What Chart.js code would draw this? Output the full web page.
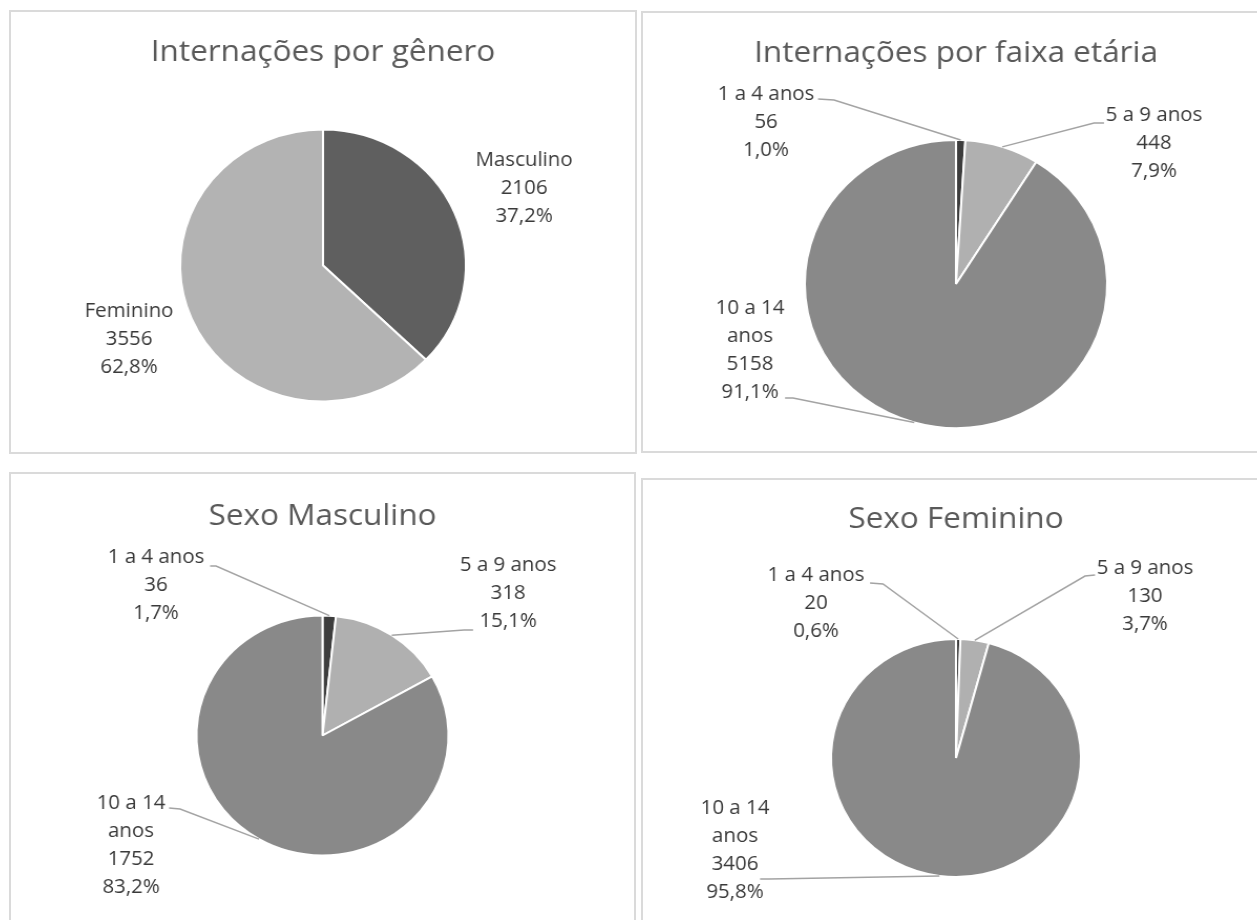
<!DOCTYPE html>
<html lang="pt-BR">
<head>
<meta charset="utf-8">
<title>Internações</title>
<script src="https://cdn.jsdelivr.net/npm/chart.js@4.4.1/dist/chart.umd.min.js"></script>
<style>
  html, body { margin: 0; padding: 0; background: #fff; overflow: hidden; }
  body { width: 1257px; height: 920px; position: relative; }
  .painel { position: absolute; box-shadow: inset 0 0 0 2px #dadada; }
  .painel canvas { position: absolute; left: 0; top: 0; }
</style>
</head>
<body>
<div class="painel" id="painelGenero"><canvas id="graficoGenero"></canvas></div>
<div class="painel" id="painelFaixa"><canvas id="graficoFaixa"></canvas></div>
<div class="painel" id="painelMasculino"><canvas id="graficoMasculino"></canvas></div>
<div class="painel" id="painelFeminino"><canvas id="graficoFeminino"></canvas></div>

<script>
// Dados das internações
const generoCategorias = ['Masculino', 'Feminino'];
const generoValores = [2106, 3556];
const faixaCategorias = ['1 a 4 anos', '5 a 9 anos', '10 a 14 anos'];
const faixaValores = [56, 448, 5158];
const masculinoValores = [36, 318, 1752];
const femininoValores = [20, 130, 3406];

const coresGenero = ['#5f5f5f', '#b3b3b3'];
const coresFaixa = ['#3d3d3d', '#b0b0b0', '#898989'];

// as pizzas ficam um pouco mais largas que altas
const ESTICAR = 1.05;
const FONTE = '"Open Sans", "DejaVu Sans", sans-serif';
const TAM_TITULO = 30;
const TAM_ROTULO = 19.5;
const ENTRELINHA = 28;

// Rótulos com nome, quantidade e percentual, e linha de chamada até a fatia
const rotulosPizza = {
    id: 'rotulosPizza',
    afterDatasetsDraw(chart, args, opts) {
        const { ctx } = chart;
        const meta = chart.getDatasetMeta(0);
        const valores = chart.data.datasets[0].data;
        const total = valores.reduce((a, b) => a + b, 0);
        const rotulos = opts.rotulos || [];

        ctx.save();
        ctx.font = `${TAM_ROTULO}px ${FONTE}`;
        ctx.fillStyle = '#3a3a3a';
        ctx.textAlign = 'center';
        ctx.textBaseline = 'middle';

        meta.data.forEach((arco, i) => {
            const rot = rotulos[i];
            if (!rot) return;
            const nome = chart.data.labels[i];
            let linhas = [nome];
            if (rot.quebra) {
                const k = nome.lastIndexOf(' ');
                linhas = [nome.slice(0, k), nome.slice(k + 1)];
            }
            const pct = (valores[i] / total * 100).toFixed(1).replace('.', ',') + '%';
            linhas.push(String(valores[i]), pct);

            const x = rot.x / ESTICAR;
            linhas.forEach((t, k) => ctx.fillText(t, x, rot.y + k * ENTRELINHA));

            if (rot.linha) {
                const { x: cx, y: cy, startAngle, endAngle, outerRadius } =
                    arco.getProps(['x', 'y', 'startAngle', 'endAngle', 'outerRadius'], true);
                const meio = (startAngle + endAngle) / 2;
                const px = cx + Math.cos(meio) * outerRadius;
                const py = cy + Math.sin(meio) * outerRadius;
                ctx.beginPath();
                ctx.strokeStyle = '#a3a3a3';
                ctx.lineWidth = 1.5;
                ctx.moveTo(rot.linha[0][0] / ESTICAR, rot.linha[0][1]);
                ctx.lineTo(rot.linha[1][0] / ESTICAR, rot.linha[1][1]);
                ctx.lineTo(px, py);
                ctx.stroke();
            }
        });
        ctx.restore();
    }
};

// a pizza fica centrada na largura do painel; a altura define o raio
const paineis = [
    {
        painel: 'painelGenero', canvas: 'graficoGenero',
        caixa: { x: 9, y: 10, w: 628, h: 444 },
        titulo: 'Internações por gênero', tituloY: 42,
        categorias: generoCategorias, valores: generoValores, cores: coresGenero,
        centroY: 255.5, raio: 136,
        rotulos: [
            { x: 515, y: 150 },
            { x: 120, y: 301 }
        ]
    },
    {
        painel: 'painelFaixa', canvas: 'graficoFaixa',
        caixa: { x: 641, y: 11, w: 630, h: 442 },
        titulo: 'Internações por faixa etária', tituloY: 42,
        categorias: faixaCategorias, valores: faixaValores, cores: coresFaixa,
        centroY: 273, raio: 144,
        rotulos: [
            { x: 125, y: 83, linha: [[177, 88], [193, 89]] },
            { x: 513, y: 104, linha: [[463, 112], [453, 112]] },
            { x: 109, y: 297, quebra: true, linha: [[144, 387], [152, 387]] }
        ]
    },
    {
        painel: 'painelMasculino', canvas: 'graficoMasculino',
        caixa: { x: 9, y: 472, w: 627, h: 470 },
        titulo: 'Sexo Masculino', tituloY: 44,
        categorias: faixaCategorias, valores: masculinoValores, cores: coresFaixa,
        centroY: 263.5, raio: 120,
        rotulos: [
            { x: 147, y: 85, linha: [[201, 94], [207, 94]] },
            { x: 499, y: 93, linha: [[464, 158], [455, 158]] },
            { x: 122, y: 331, quebra: true, linha: [[160, 336], [171, 337]] }
        ]
    },
    {
        painel: 'painelFeminino', canvas: 'graficoFeminino',
        caixa: { x: 641, y: 478, w: 630, h: 470 },
        titulo: 'Sexo Feminino', tituloY: 41.5,
        categorias: faixaCategorias, valores: femininoValores, cores: coresFaixa,
        centroY: 280, raio: 119,
        rotulos: [
            { x: 175, y: 97, linha: [[229, 105], [242, 106]] },
            { x: 504, y: 90, linha: [[454, 97], [444, 98]] },
            { x: 94, y: 330, quebra: true, linha: [[119, 401], [128, 401]] }
        ]
    }
];

function montarGrafico(p) {
    const wrap = document.getElementById(p.painel);
    wrap.style.left = p.caixa.x + 'px';
    wrap.style.top = p.caixa.y + 'px';
    wrap.style.width = p.caixa.w + 'px';
    wrap.style.height = p.caixa.h + 'px';

    const canvas = document.getElementById(p.canvas);
    const largura = Math.round(p.caixa.w / ESTICAR);
    canvas.width = largura;
    canvas.height = p.caixa.h;
    canvas.style.width = p.caixa.w + 'px';
    canvas.style.height = p.caixa.h + 'px';

    const r = p.raio + 1; // a borda branca de 2px tira 1px do raio
    const alturaTitulo = TAM_TITULO * 1.2;

    return new Chart(canvas, {
        type: 'pie',
        data: {
            labels: p.categorias,
            datasets: [{
                data: p.valores,
                backgroundColor: p.cores,
                borderColor: '#ffffff',
                borderWidth: 2,
                hoverBorderWidth: 2,
                hoverOffset: 0
            }]
        },
        options: {
            responsive: false,
            animation: false,
            events: [],
            layout: {
                padding: { left: 0, right: 0, top: 0, bottom: p.caixa.h - (p.centroY + r) }
            },
            plugins: {
                legend: { display: false },
                tooltip: { enabled: false },
                title: {
                    display: true,
                    text: p.titulo,
                    color: '#595959',
                    font: { family: FONTE, size: TAM_TITULO, weight: 'normal', lineHeight: 1.2 },
                    padding: {
                        top: p.tituloY - alturaTitulo / 2,
                        bottom: (p.centroY - r) - (p.tituloY + alturaTitulo / 2)
                    }
                },
                rotulosPizza: { rotulos: p.rotulos }
            }
        },
        plugins: [rotulosPizza]
    });
}

paineis.forEach(montarGrafico);
</script>
</body>
</html>
